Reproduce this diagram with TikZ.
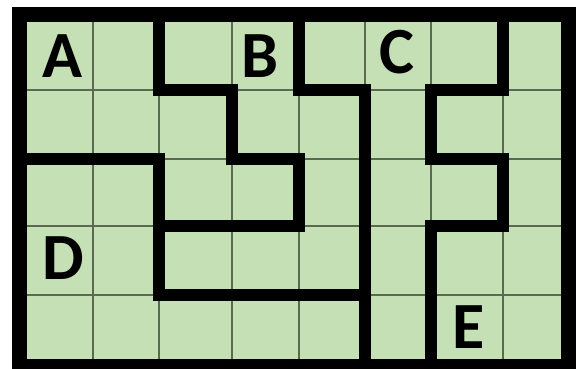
\documentclass[tikz,border=0pt]{standalone}
\usepackage{fontspec}
\setmainfont{Carlito}
\definecolor{cellgreen}{HTML}{C5E0B4}
\definecolor{gridline}{HTML}{5A6A50}
\tikzset{
  wall/.style={line width=12pt, line join=miter, line cap=rect, black},
  border/.style={line width=15pt, line join=miter, black},
  thin/.style={line width=1.4pt, gridline},
  letter/.style={inner sep=0pt, font=\fontsize{66}{66}\selectfont\bfseries}
}
\begin{document}
\begin{tikzpicture}[x=1pt,y=-1pt]
\useasboundingbox (0,0) rectangle (579,369);
% cells
\fill[cellgreen] (19,14.5) rectangle (568,366);
% thin grid lines
\foreach \x in {93,159,232,299,365,431,503} \draw[thin] (\x,14.5) -- (\x,366);
\foreach \y in {90,159,226,295} \draw[thin] (19,\y) -- (568,\y);
% walls
\draw[wall] (19,159) -- (159,159) -- (159,295) -- (365,295);
\draw[wall] (159,14.5) -- (159,90) -- (232,90) -- (232,159) -- (299,159) -- (299,226) -- (159,226);
\draw[wall] (299,14.5) -- (299,90) -- (365,90) -- (365,366);
\draw[wall] (503,14.5) -- (503,90) -- (431,90) -- (431,159) -- (503,159) -- (503,226) -- (431,226) -- (431,366);
% border
\draw[border] (19,14.5) rectangle (568,366);
% letters
\node[letter] (A) at (62,56) {A};
\node[letter] (B) at (260,56) {B};
\node[letter] (C) at (397,52) {C};
\node[letter] (D) at (63,258) {D};
\node[letter] (E) at (469,327) {E};
\end{tikzpicture}
\end{document}
